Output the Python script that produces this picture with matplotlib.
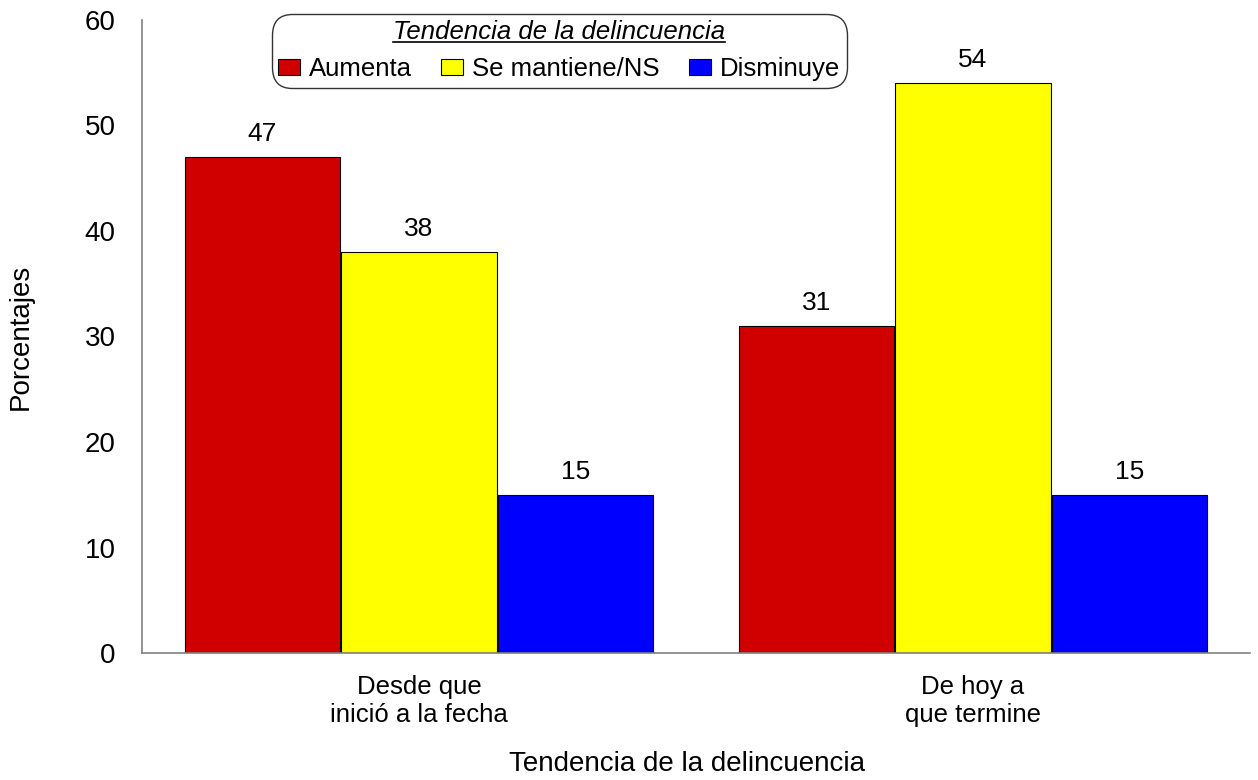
import matplotlib
matplotlib.use('Agg')
import matplotlib.pyplot as plt
import numpy as np
from matplotlib.lines import Line2D

plt.rcParams['font.family'] = ['Liberation Sans', 'DejaVu Sans']

categories = ['Desde que\ninició a la fecha', 'De hoy a\nque termine']
series_names = ['Aumenta', 'Se mantiene/NS', 'Disminuye']
values = {
    'Aumenta': [47, 31],
    'Se mantiene/NS': [38, 54],
    'Disminuye': [15, 15],
}
colors = ['#D00000', '#FFFF00', '#0000FF']

fig = plt.figure(figsize=(12.58, 7.8), dpi=100)
ax = fig.add_axes([0.1129, 0.1628, 0.8807, 0.8116])

x = np.arange(len(categories))
width = 0.28
step = 0.283
for i, name in enumerate(series_names):
    bars = ax.bar(x + (i - 1) * step, values[name], width, color=colors[i],
                  edgecolor='black', linewidth=0.8, label=name)
    ax.bar_label(bars, labels=[str(v) for v in values[name]], padding=8,
                 fontsize=19)

ax.set_xlim(-0.5, 1.5)
ax.set_ylim(0, 60)
ax.set_yticks(range(0, 61, 10))
ax.set_xticks(x)
ax.set_xticklabels(categories, fontsize=18.5)
ax.tick_params(axis='both', length=0)
ax.tick_params(axis='y', pad=19, labelsize=20)
ax.tick_params(axis='x', pad=16)
for s in ['top', 'right']:
    ax.spines[s].set_visible(False)
for s in ['left', 'bottom']:
    ax.spines[s].set_color('#808080')
    ax.spines[s].set_linewidth(1.2)

ax.set_ylabel('Porcentajes', fontsize=20)
ax.yaxis.set_label_coords(-0.098, 0.5)
ax.set_xlabel('Tendencia de la delincuencia', fontsize=20)
ax.xaxis.set_label_coords(0.492, -0.155)

leg = ax.legend(ncol=3, loc='upper left', bbox_to_anchor=(0.117, 1.0095),
                title='Tendencia de la delincuencia', fontsize=18.5,
                title_fontproperties={'size': 18.5, 'style': 'italic'},
                frameon=True, fancybox=True, edgecolor='black',
                handlelength=0.85, handleheight=0.55, handletextpad=0.35,
                columnspacing=1.15, borderpad=0.25, labelspacing=0.5,
                borderaxespad=0)
leg.get_frame().set_linewidth(1.0)
leg.get_frame().set_boxstyle('round', pad=0, rounding_size=0.8)

# underline the legend title
fig.canvas.draw()
tb = leg.get_title().get_window_extent()
inv = fig.transFigure.inverted()
(x0, y0), (x1, y1) = inv.transform([(tb.x0, tb.y0 + 2), (tb.x1, tb.y0 + 2)])
fig.add_artist(Line2D([x0, x1], [y0, y1], color='black', linewidth=1.2,
                      transform=fig.transFigure))

fig.savefig('out.png', dpi=100)
